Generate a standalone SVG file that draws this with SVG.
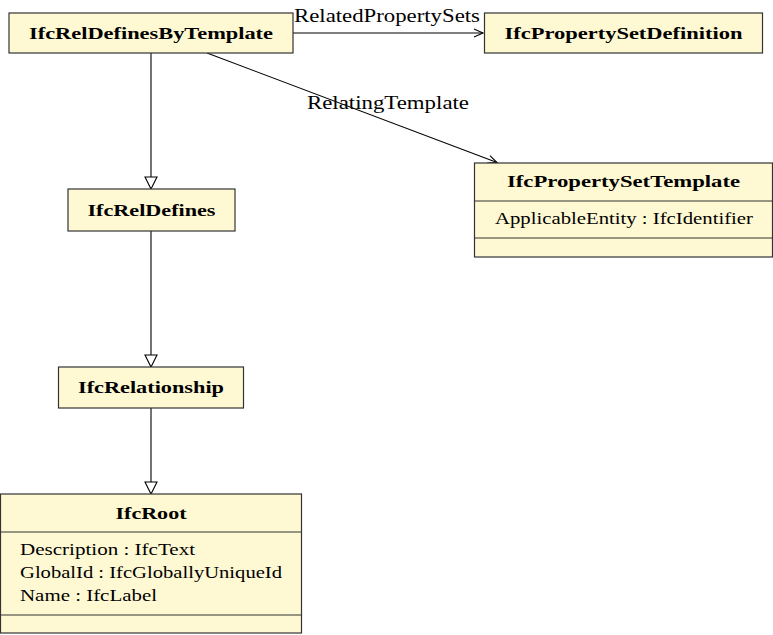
<svg xmlns="http://www.w3.org/2000/svg" width="773" height="635" viewBox="0 0 773 635">
<style>
.box{fill:#fff9d3;stroke:#333;stroke-width:1.2}
.div{stroke:#333;stroke-width:1.2}
.t{font-family:"Liberation Serif","DejaVu Serif",serif;font-weight:bold;font-size:17px;fill:#000;text-anchor:middle}
.a{font-family:"Liberation Serif","DejaVu Serif",serif;font-size:17px;fill:#000}
.l{font-family:"Liberation Serif","DejaVu Serif",serif;font-size:18px;fill:#000;text-anchor:middle}
.c{stroke:#000;stroke-width:1.1;fill:none}
.gen{fill:#fff;stroke:#000;stroke-width:1.1}
</style>
<defs>
<marker id="open" markerWidth="12" markerHeight="10" refX="10" refY="5" orient="auto" markerUnits="userSpaceOnUse">
<path d="M1,1 L10,5 L1,9" fill="none" stroke="#000" stroke-width="1.1"/>
</marker>
</defs>
<g id="connectors">
<line class="c" x1="293" y1="33" x2="483" y2="33" marker-end="url(#open)"/>
<text class="l" x="387" y="22" textLength="186" lengthAdjust="spacingAndGlyphs">RelatedPropertySets</text>
<line class="c" x1="207" y1="53" x2="497" y2="162.5" marker-end="url(#open)"/>
<text class="l" x="388" y="109" textLength="162" lengthAdjust="spacingAndGlyphs">RelatingTemplate</text>
<line class="c" x1="151" y1="53" x2="151" y2="177"/>
<polygon class="gen" points="145,177 157,177 151,189"/>
<line class="c" x1="151" y1="231" x2="151" y2="355"/>
<polygon class="gen" points="145,355 157,355 151,367"/>
<line class="c" x1="151" y1="408" x2="151" y2="482"/>
<polygon class="gen" points="145,482 157,482 151,494"/>
</g>
<g id="IfcRelDefinesByTemplate">
<rect class="box" x="9" y="13" width="284" height="40"/>
<text class="t" x="151" y="39" textLength="244" lengthAdjust="spacingAndGlyphs">IfcRelDefinesByTemplate</text>
</g>
<g id="IfcPropertySetDefinition">
<rect class="box" x="484.5" y="13" width="278" height="40"/>
<text class="t" x="623.5" y="39" textLength="238" lengthAdjust="spacingAndGlyphs">IfcPropertySetDefinition</text>
</g>
<g id="IfcPropertySetTemplate">
<rect class="box" x="474.5" y="163" width="298" height="94"/>
<line class="div" x1="474.5" y1="201" x2="772.5" y2="201"/>
<line class="div" x1="474.5" y1="238" x2="772.5" y2="238"/>
<text class="t" x="623.5" y="187" textLength="233" lengthAdjust="spacingAndGlyphs">IfcPropertySetTemplate</text>
<text class="a" x="495" y="224" textLength="258" lengthAdjust="spacingAndGlyphs">ApplicableEntity : IfcIdentifier</text>
</g>
<g id="IfcRelDefines">
<rect class="box" x="68" y="189" width="167" height="42"/>
<text class="t" x="151.5" y="216" textLength="128" lengthAdjust="spacingAndGlyphs">IfcRelDefines</text>
</g>
<g id="IfcRelationship">
<rect class="box" x="58.5" y="367" width="185" height="41"/>
<text class="t" x="151" y="393" textLength="146" lengthAdjust="spacingAndGlyphs">IfcRelationship</text>
</g>
<g id="IfcRoot">
<rect class="box" x="0.5" y="494" width="301" height="139"/>
<line class="div" x1="0.5" y1="532" x2="301.5" y2="532"/>
<line class="div" x1="0.5" y1="615" x2="301.5" y2="615"/>
<text class="t" x="151" y="519" textLength="71" lengthAdjust="spacingAndGlyphs">IfcRoot</text>
<text class="a" x="20" y="555" textLength="175" lengthAdjust="spacingAndGlyphs">Description : IfcText</text>
<text class="a" x="20" y="578" textLength="262" lengthAdjust="spacingAndGlyphs">GlobalId : IfcGloballyUniqueId</text>
<text class="a" x="20" y="601" textLength="137" lengthAdjust="spacingAndGlyphs">Name : IfcLabel</text>
</g>
</svg>
